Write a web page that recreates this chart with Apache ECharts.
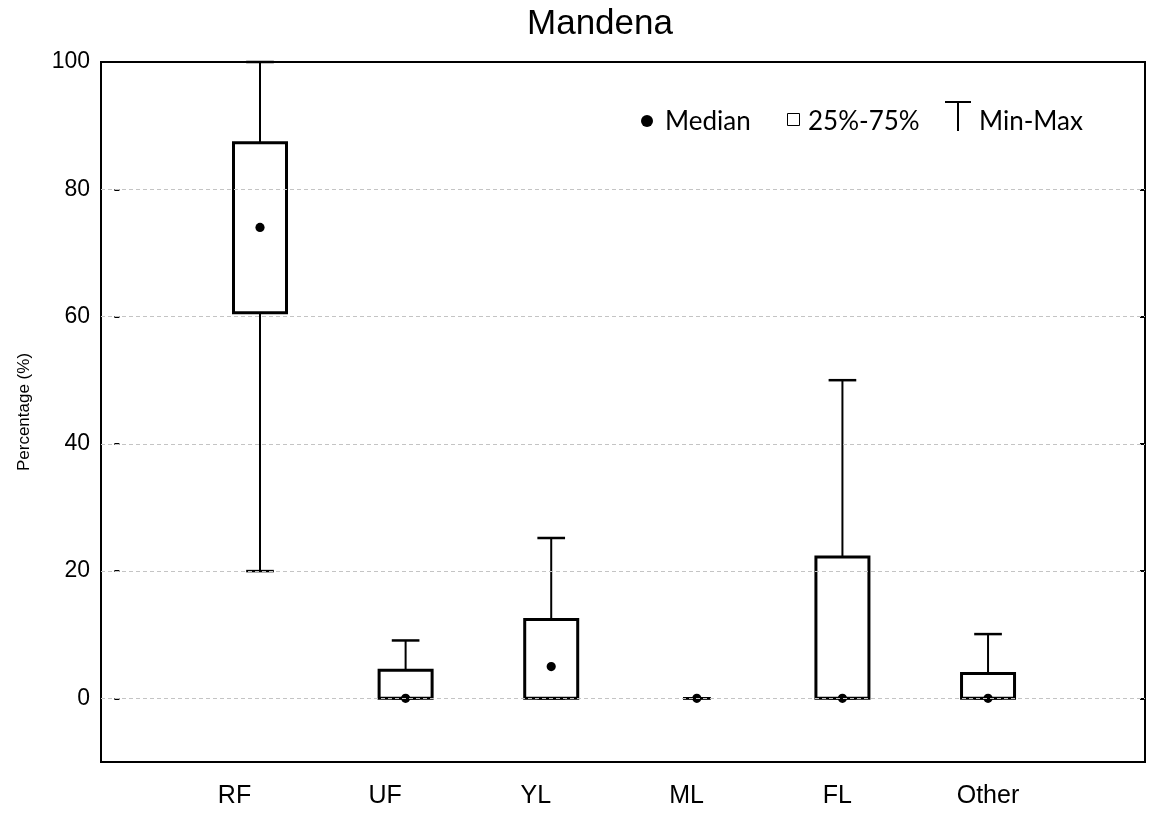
<!DOCTYPE html>
<html>
<head>
<meta charset="utf-8">
<title>Mandena</title>
<script src="https://cdn.jsdelivr.net/npm/echarts@6/dist/echarts.min.js"></script>
<style>
  html, body { margin: 0; padding: 0; background: #fff; }
  #chart { width: 1149px; height: 813px; }
</style>
</head>
<body>
<div id="chart"></div>
<script>
// Food categories and box-plot statistics (percentages)
const categories = ['RF', 'UF', 'YL', 'ML', 'FL', 'Other'];
const minVals    = [20,   0,   0,    0, 0,    0];
const q1Vals     = [60.6, 0,   0,    0, 0,    0];
const medianVals = [74,   0,   5,    0, 0,    0];
const q3Vals     = [87.3, 4.4, 12.4, 0, 22.2, 3.9];
const maxVals    = [100,  9.1, 25.2, 0, 50,   10.1];
const yTicks     = [0, 20, 40, 60, 80, 100];

const FONT = '"Liberation Sans", Arial, sans-serif';
const LEGEND_FONT = 'Lato, "Open Sans", sans-serif';

const boxData = categories.map((c, i) => [i + 1, minVals[i], q1Vals[i], medianVals[i], q3Vals[i], maxVals[i]]);

// whiskers, caps, interquartile box and median dot for one category
function renderBox(params, api) {
  const x = api.value(0);
  const vMin = api.value(1), vQ1 = api.value(2), vMed = api.value(3), vQ3 = api.value(4), vMax = api.value(5);
  const unit = api.size([1, 0])[0];
  const boxW = unit * 0.364;
  const capW = unit * 0.19;
  const pMin = api.coord([x, vMin]);
  const pQ1 = api.coord([x, vQ1]);
  const pMed = api.coord([x, vMed]);
  const pQ3 = api.coord([x, vQ3]);
  const pMax = api.coord([x, vMax]);
  const cx = pMed[0];
  const children = [];
  const ink = { stroke: '#000', fill: null };
  if (vMax > vQ3) {
    children.push({ type: 'line', shape: { x1: cx, y1: pQ3[1], x2: cx, y2: pMax[1] }, style: Object.assign({ lineWidth: 2 }, ink) });
  }
  if (vQ1 > vMin) {
    children.push({ type: 'line', shape: { x1: cx, y1: pQ1[1], x2: cx, y2: pMin[1] }, style: Object.assign({ lineWidth: 2 }, ink) });
  }
  if (vQ3 > vQ1) {
    children.push({ type: 'rect', shape: { x: cx - boxW / 2, y: pQ3[1], width: boxW, height: pQ1[1] - pQ3[1] },
      style: { fill: '#fff', stroke: '#000', lineWidth: 3 } });
  }
  children.push({ type: 'line', shape: { x1: cx - capW / 2, y1: pMax[1], x2: cx + capW / 2, y2: pMax[1] }, style: Object.assign({ lineWidth: 2.5 }, ink) });
  children.push({ type: 'line', shape: { x1: cx - capW / 2, y1: pMin[1], x2: cx + capW / 2, y2: pMin[1] }, style: Object.assign({ lineWidth: 2.5 }, ink) });
  children.push({ type: 'circle', shape: { cx: cx, cy: pMed[1], r: 4.6 }, style: { fill: '#000' } });
  return { type: 'group', children: children };
}

const chart = echarts.init(document.getElementById('chart'), null, { renderer: 'canvas' });

chart.setOption({
  animation: false,
  backgroundColor: '#fff',
  title: {
    text: 'Mandena',
    left: 595,
    top: 2,
    textAlign: 'center',
    textStyle: { fontFamily: FONT, fontSize: 35, fontWeight: 'normal', color: '#000' }
  },
  grid: {
    left: 101, right: 4, top: 62, bottom: 51,
    show: true, borderColor: '#000', borderWidth: 2, backgroundColor: 'transparent'
  },
  xAxis: [
    {
      type: 'value', position: 'bottom',
      min: -0.092, max: 7.078,
      axisLine: { show: false }, axisTick: { show: false },
      axisLabel: { show: false }, splitLine: { show: false }
    },
    {
      type: 'value', position: 'bottom',
      min: 0.114, max: 7.042,
      axisLine: { show: false }, axisTick: { show: false }, splitLine: { show: false },
      axisLabel: {
        customValues: categories.map((c, i) => i + 1),
        formatter: v => categories[Math.round(v) - 1] || '',
        margin: 22, fontFamily: FONT, fontSize: 25, color: '#000'
      }
    }
  ],
  yAxis: [
    {
      type: 'value', position: 'left', min: -10, max: 100,
      name: 'Percentage (%)', nameLocation: 'middle', nameGap: 68,
      nameTextStyle: { fontFamily: FONT, fontSize: 17, color: '#000' },
      axisLine: { show: false },
      axisTick: { show: true, inside: true, length: 5, customValues: yTicks, lineStyle: { color: '#000', width: 2 } },
      axisLabel: { customValues: yTicks, margin: 11, fontFamily: FONT, fontSize: 23, color: '#000' },
      splitLine: { show: false }
    },
    {
      type: 'value', position: 'right', min: -10, max: 100,
      axisLine: { show: false },
      axisTick: { show: true, inside: true, length: 5, customValues: yTicks, lineStyle: { color: '#000', width: 2 } },
      axisLabel: { show: false },
      splitLine: { show: false }
    }
  ],
  graphic: [
    { type: 'circle', shape: { cx: 647, cy: 121, r: 6 }, style: { fill: '#000' }, z: 10 },
    { type: 'text', x: 665, y: 122, style: { text: 'Median', font: '26px ' + LEGEND_FONT, fill: '#000', verticalAlign: 'middle' }, z: 10 },
    { type: 'rect', shape: { x: 787.5, y: 113.5, width: 12, height: 12 }, style: { fill: '#fff', stroke: '#000', lineWidth: 1 }, z: 10 },
    { type: 'text', x: 808, y: 122, style: { text: '25%-75%', font: '26px ' + LEGEND_FONT, fill: '#000', verticalAlign: 'middle' }, z: 10 },
    { type: 'polyline', shape: { points: [[945, 102], [971, 102]] }, style: { stroke: '#000', lineWidth: 2 }, z: 10 },
    { type: 'polyline', shape: { points: [[958, 102], [958, 131]] }, style: { stroke: '#000', lineWidth: 2 }, z: 10 },
    { type: 'text', x: 979, y: 122, style: { text: 'Min-Max', font: '26px ' + LEGEND_FONT, fill: '#000', verticalAlign: 'middle' }, z: 10 }
  ],
  series: [
    {
      // dashed reference lines at the labelled ticks
      type: 'line', xAxisIndex: 0, yAxisIndex: 0, data: [], z: 1, silent: true,
      markLine: {
        silent: true, symbol: ['none', 'none'], label: { show: false },
        lineStyle: { type: [4, 3], color: '#c4c4c4', width: 1 },
        data: yTicks.filter(v => v < 100).map(v => ({ yAxis: v }))
      }
    },
    {
      type: 'custom', name: 'Mandena', xAxisIndex: 0, yAxisIndex: 0, z: 3,
      renderItem: renderBox,
      encode: { x: 0, y: [1, 2, 3, 4, 5] },
      data: boxData
    }
  ]
});
</script>
</body>
</html>
